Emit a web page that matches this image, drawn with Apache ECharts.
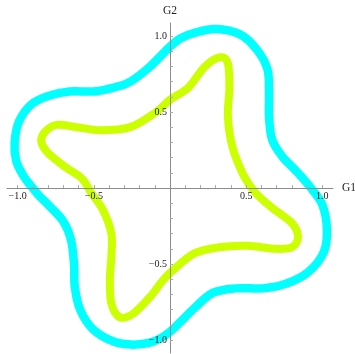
<!DOCTYPE html>
<html>
<head>
<meta charset="utf-8">
<script src="https://cdn.jsdelivr.net/npm/echarts@6/dist/echarts.min.js"></script>
<style>
  html, body { margin: 0; padding: 0; background: #fff; }
  #chart { width: 355px; height: 354px; }
</style>
</head>
<body>
<div id="chart"></div>
<script>
// Outer contour (cyan), traced counter-clockwise from the G2 axis crossing
const outerG1 = [0, -0.13, -0.26, -0.37, -0.50, -0.66, -0.80, -0.91, -0.99, -1.02, -1.01, -0.965, -0.91, -0.86, -0.79, -0.70, -0.65, -0.63, -0.625, -0.59, -0.505, -0.37, -0.24, -0.11, 0, 0.16, 0.28, 0.43, 0.61, 0.76, 0.91, 1.01, 1.03, 1.0, 0.925, 0.83, 0.735, 0.67, 0.65, 0.65, 0.64, 0.57, 0.46, 0.30, 0.16, 0.07];
const outerG2 = [0.93, 0.80, 0.70, 0.66, 0.635, 0.635, 0.605, 0.55, 0.44, 0.30, 0.18, 0.085, 0.01, -0.05, -0.12, -0.22, -0.34, -0.50, -0.65, -0.80, -0.93, -1.01, -1.03, -1.01, -0.945, -0.79, -0.69, -0.66, -0.66, -0.63, -0.55, -0.42, -0.27, -0.11, 0.0, 0.11, 0.21, 0.32, 0.47, 0.62, 0.78, 0.91, 1.01, 1.045, 1.02, 0.985];

// Inner contour (yellow-green)
const innerG1 = [0, -0.09, -0.26, -0.46, -0.61, -0.745, -0.82, -0.845, -0.80, -0.69, -0.58, -0.515, -0.44, -0.385, -0.385, -0.395, -0.385, -0.33, -0.24, -0.13, -0.045, 0.02, 0.16, 0.32, 0.51, 0.69, 0.80, 0.84, 0.80, 0.67, 0.56, 0.485, 0.41, 0.38, 0.39, 0.38, 0.33, 0.23, 0.12];
const innerG2 = [0.58, 0.50, 0.40, 0.38, 0.40, 0.415, 0.37, 0.305, 0.23, 0.14, 0.064, -0.035, -0.145, -0.30, -0.45, -0.605, -0.76, -0.85, -0.825, -0.715, -0.605, -0.54, -0.43, -0.39, -0.38, -0.40, -0.39, -0.32, -0.23, -0.13, -0.03, 0.08, 0.27, 0.47, 0.66, 0.82, 0.86, 0.80, 0.66];

// Axis ticks every 0.1, labels every 0.5
const tickValues = [-1.0, -0.9, -0.8, -0.7, -0.6, -0.5, -0.4, -0.3, -0.2, -0.1, 0.1, 0.2, 0.3, 0.4, 0.5, 0.6, 0.7, 0.8, 0.9, 1.0];
const labelValues = [-1.0, -0.5, 0.5, 1.0];

const G1_RANGE = [-1.07, 1.07];
const G2_RANGE = [-1.085, 1.085];

function toPoints(xs, ys) {
  return xs.map((x, i) => [x, ys[i]]);
}

function fmt(v) {
  return v < 0 ? '\u2212' + Math.abs(v).toFixed(1) : v.toFixed(1);
}

// Closed Catmull-Rom spline through every point of a contour (drawn once, on the first item)
function contourSeries(xs, ys, color, width) {
  const pts = toPoints(xs, ys);
  return {
    type: 'custom',
    coordinateSystem: 'cartesian2d',
    data: pts,
    renderItem: function (params, api) {
      if (params.dataIndex !== 0) return null;
      const p = pts.map(d => api.coord(d));
      const m = p.length;
      let d = 'M' + p[0][0] + ' ' + p[0][1];
      for (let i = 0; i < m; i++) {
        const p0 = p[(i - 1 + m) % m], p1 = p[i], p2 = p[(i + 1) % m], p3 = p[(i + 2) % m];
        const c1x = p1[0] + (p2[0] - p0[0]) / 6, c1y = p1[1] + (p2[1] - p0[1]) / 6;
        const c2x = p2[0] - (p3[0] - p1[0]) / 6, c2y = p2[1] - (p3[1] - p1[1]) / 6;
        d += ' C' + c1x + ' ' + c1y + ' ' + c2x + ' ' + c2y + ' ' + p2[0] + ' ' + p2[1];
      }
      d += ' Z';
      return {
        type: 'path',
        shape: { pathData: d },
        style: { fill: null, stroke: color, lineWidth: width, lineJoin: 'round' }
      };
    }
  };
}

const labelStyle = {
  customValues: labelValues,
  formatter: fmt,
  fontFamily: 'Liberation Serif',
  fontSize: 10,
  color: '#222',
  margin: 3
};

const nameStyle = { fontFamily: 'Liberation Serif', fontSize: 11.5, color: '#222' };

const chart = echarts.init(document.getElementById('chart'), null, { renderer: 'canvas' });

// Plot area edges in pixels; the axes cross at the data origin
const gridBox = { left: 7, right: 22, top: 23, bottom: 1 };
const W = 355, H = 354;
const plotW = W - gridBox.left - gridBox.right;
const plotH = H - gridBox.top - gridBox.bottom;
const zeroFromLeft = plotW * (0 - G1_RANGE[0]) / (G1_RANGE[1] - G1_RANGE[0]);
const zeroFromBottom = plotH * (0 - G2_RANGE[0]) / (G2_RANGE[1] - G2_RANGE[0]);

chart.setOption({
  animation: false,
  backgroundColor: '#ffffff',
  grid: Object.assign({ containLabel: false, outerBoundsMode: 'none' }, gridBox),
  xAxis: {
    type: 'value',
    min: G1_RANGE[0], max: G1_RANGE[1],
    position: 'bottom',
    offset: -zeroFromBottom,
    z: 10,
    splitLine: { show: false },
    axisLine: { onZero: false, lineStyle: { color: '#8c8c8c', width: 1 } },
    axisTick: { inside: true, length: 3, customValues: tickValues, lineStyle: { color: '#aaaaaa' } },
    axisLabel: labelStyle,
    name: 'G1', nameLocation: 'end', nameGap: 9, nameTextStyle: nameStyle
  },
  yAxis: {
    type: 'value',
    min: G2_RANGE[0], max: G2_RANGE[1],
    position: 'left',
    offset: -zeroFromLeft,
    z: 10,
    splitLine: { show: false },
    axisLine: { onZero: false, lineStyle: { color: '#8c8c8c', width: 1 } },
    axisTick: { inside: true, length: 3, customValues: tickValues, lineStyle: { color: '#aaaaaa' } },
    axisLabel: labelStyle,
    name: 'G2', nameLocation: 'end', nameGap: 6, nameTextStyle: nameStyle
  },
  series: [
    contourSeries(outerG1, outerG2, '#00ffff', 8.5),
    contourSeries(innerG1, innerG2, '#ccff00', 8)
  ]
});
</script>
</body>
</html>
